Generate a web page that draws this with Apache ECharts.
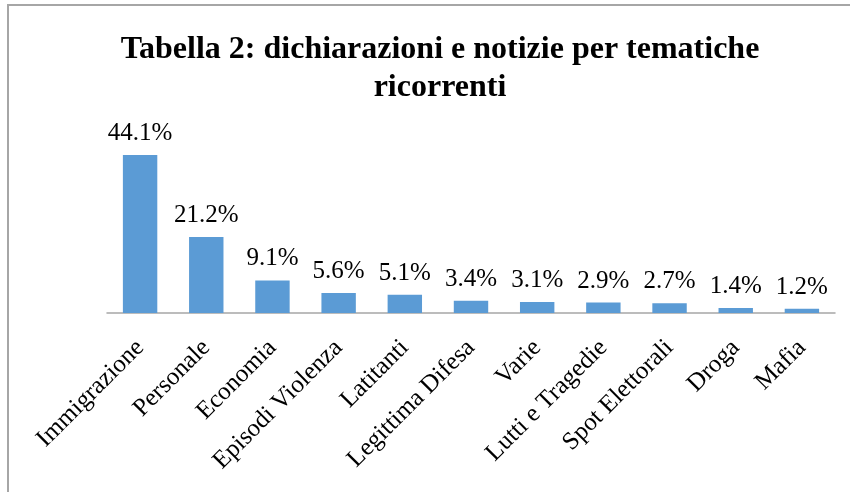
<!DOCTYPE html>
<html>
<head>
<meta charset="utf-8">
<script src="https://cdn.jsdelivr.net/npm/echarts@6/dist/echarts.min.js"></script>
<style>
  html, body { margin: 0; padding: 0; background: #fff; }
  #chart { width: 850px; height: 492px; }
</style>
</head>
<body>
<div id="chart"></div>
<script>
const categories = [
  "Immigrazione", "Personale", "Economia", "Episodi Violenza", "Latitanti",
  "Legittima Difesa", "Varie", "Lutti e Tragedie", "Spot Elettorali", "Droga", "Mafia"
];
const shares = [44.1, 21.2, 9.1, 5.6, 5.1, 3.4, 3.1, 2.9, 2.7, 1.4, 1.2];

const serif = '"Liberation Serif", "Times New Roman", serif';

const chart = echarts.init(document.getElementById("chart"));

chart.setOption({
  animation: false,
  title: {
    text: "Tabella 2: dichiarazioni e notizie per tematiche\nricorrenti",
    left: 435,
    textAlign: "center",
    top: 26,
    textStyle: {
      fontFamily: serif,
      fontWeight: "bold",
      fontSize: 32,
      lineHeight: 38,
      color: "#000"
    }
  },
  // chart frame (top and left edges visible)
  graphic: [
    {
      type: "polyline",
      shape: { points: [[8, 492], [8, 5], [850, 5]] },
      style: { stroke: "#a6a6a6", lineWidth: 2, fill: null }
    }
  ],
  grid: { left: 107, right: 15, top: 134, bottom: 179 },
  xAxis: {
    type: "category",
    data: categories,
    axisLine: { lineStyle: { color: "#a6a6a6", width: 1.5 } },
    axisTick: { show: false },
    axisLabel: {
      rotate: 45,
      interval: 0,
      margin: 31,
      fontFamily: serif,
      fontSize: 25,
      color: "#000"
    }
  },
  yAxis: {
    type: "value",
    min: 0,
    max: 50,
    show: false,
    splitLine: { show: false }
  },
  series: [
    {
      type: "bar",
      data: shares,
      barWidth: "52%",
      itemStyle: { color: "#5b9bd5" },
      label: {
        show: true,
        position: "top",
        distance: 9,
        fontFamily: serif,
        fontSize: 25,
        color: "#000",
        formatter: p => p.value.toFixed(1) + "%"
      }
    }
  ]
});
</script>
</body>
</html>
